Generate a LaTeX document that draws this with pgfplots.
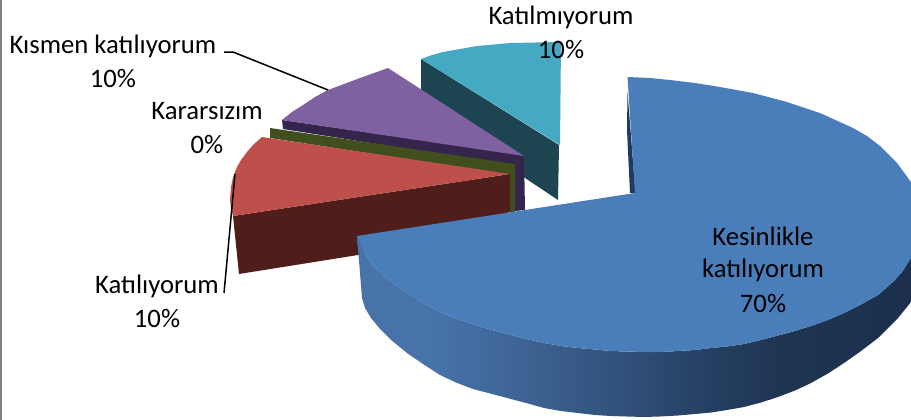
\documentclass[border=0pt]{standalone}
\usepackage{fontspec}
\setmainfont{Carlito}
\usepackage{pgfplots}
\pgfplotsset{compat=1.18}
\definecolor{bs1}{HTML}{4773A9}
\definecolor{bs2}{HTML}{3F6596}
\definecolor{bs3}{HTML}{32527E}
\definecolor{bs4}{HTML}{253F61}
\definecolor{bs5}{HTML}{1F3552}
\definecolor{bs6}{HTML}{1C304D}
\pgfdeclarehorizontalshading{blueside}{100bp}{
  color(0bp)=(bs1); color(32bp)=(bs1); color(39bp)=(bs2); color(48bp)=(bs3); color(57bp)=(bs4); color(63bp)=(bs5); color(75bp)=(bs6); color(100bp)=(bs6)}
\definecolor{bluetop}{HTML}{4A7EBB}
\definecolor{bluedark}{HTML}{1F3A5F}
\definecolor{redtop}{HTML}{BE4F4B}
\definecolor{redside}{HTML}{4F1E1B}
\definecolor{greentop}{HTML}{404F1D}
\definecolor{purtop}{HTML}{7F60A0}
\definecolor{purside}{HTML}{35254D}
\definecolor{teatop}{HTML}{46A9C4}
\definecolor{teaside}{HTML}{1D4451}
\tikzset{lab/.style={font=\fontsize{26.8}{30}\selectfont, text=black, inner sep=0pt, anchor=center}}
\begin{document}
\begin{tikzpicture}
\begin{axis}[scale only axis, width=911bp, height=420bp, xmin=0, xmax=911, ymin=0, ymax=420, y dir=reverse, hide axis]
\addplot[fill=white, draw=none] coordinates {(0,0)(911,0)(911,420)(0,420)} --cycle;
\addplot[fill=gray, draw=none] coordinates {(0,0)(2.2,0)(2.2,420)(0,420)} --cycle;
% teal
\addplot[fill=teaside, draw=none] coordinates {(421,59)(559,145)(558,200)(525,178)(421,100)} --cycle;
\addplot[fill=teatop, draw=none] coordinates {(421,59)(432,55)(443,52)(460,49)(477,46)(494,44.5)(510,43)(535,42.5)(561,42)(560,145)} --cycle;
% purple
\addplot[fill=purside, draw=none] coordinates {(282,120)(283,129)(515,166)(515,211)(525,210)(524,155)} --cycle;
\addplot[fill=purtop, draw=none] coordinates {(282,120)(292,112)(303,105)(315,97)(328,90)(344,84)(360,78)(374,73)(388,68)(524,156)} --cycle;
% green
\addplot[fill=greentop, draw=none] coordinates {(270,128)(270,138)(510,175)(510,213)(515,212)(515,164)} --cycle;
% red
\addplot[fill=redside, draw=none] coordinates {(233,216)(239,274)(358,255)(510,212)(510,174)} --cycle;
\addplot[fill=redtop, draw=none] coordinates {(262,137)(254,144)(247,152)(241,160)(237,167)(233,177)(231,187)(230,200)(231,208)(233,216)(510,174)} --cycle;
% blue
\addplot[fill=bluedark, draw=none] coordinates {(627.5,92)(627,130)(630,193)(635.5,193)} --cycle;
\addplot[shading=blueside, draw=none] coordinates {(357,236)(360,245)(365,254)(372,264)(381,273.5)(390,281)(407,293)(423,303)(440,312)(456,318.5)(473,324.5)(492,330)(511,335)(528,339.5)(544,343)(561,346)(578,348)(595,349.5)(611,351)(627,351.5)(644,352)(660,352)(678,351)(695,350)(711,348)(727,346.5)(744,344)(761,340)(778,335.5)(795,331)(811,326)(828,320)(844,313)(861,304.5)(878,295)(894,281)(902,272)(911,258)(911,302)(898,318)(878,338)(861,351)(844,363)(828,373.5)(811,383)(795,390.5)(778,397)(761,402.5)(744,407)(727,410)(711,412.5)(695,414)(678,415.5)(660,416.5)(644,417)(627,416.5)(611,416)(595,415)(578,413)(561,411)(544,408)(528,403.5)(511,399)(492,394)(473,389)(456,382.5)(440,375)(423,364)(407,353)(390,339)(380,329)(371,318)(365,308)(362,298)} --cycle;
\addplot[fill=bluetop, draw=none] coordinates {(627.5,77)(650,78)(670,80)(695,83)(720,87)(753,93)(787,102)(820,113)(853,128)(867,136)(880,146)(897,163)(911,182)(911,258)(902,272)(894,281)(878,295)(861,304.5)(844,313)(828,320)(811,326)(795,331)(778,335.5)(761,340)(744,344)(727,346.5)(711,348)(695,350)(678,351)(660,352)(644,352)(627,351.5)(611,351)(595,349.5)(578,348)(561,346)(544,343)(528,339.5)(511,335)(492,330)(473,324.5)(456,318.5)(440,312)(423,303)(407,293)(390,281)(381,273.5)(372,264)(365,254)(360,245)(357,236)(635,193)} --cycle;
% leaders
\addplot[black, line width=1.5bp] coordinates {(224,52)(233,52)(328,90)};
\addplot[black, line width=1.5bp] coordinates {(235,174)(224,293)};
% labels
\node[lab] at (axis cs:561,17) {Katılmıyorum};
\node[lab] at (axis cs:561,49) {10\%};
\node[lab] at (axis cs:113,46) {Kısmen katılıyorum};
\node[lab] at (axis cs:113,78) {10\%};
\node[lab] at (axis cs:207,111) {Kararsızım};
\node[lab] at (axis cs:207,144) {0\%};
\node[lab] at (axis cs:157,286) {Katılıyorum};
\node[lab] at (axis cs:157,318) {10\%};
\node[lab] at (axis cs:763,236) {Kesinlikle};
\node[lab] at (axis cs:763,270) {katılıyorum};
\node[lab] at (axis cs:763,303) {70\%};
\end{axis}
\end{tikzpicture}
\end{document}
